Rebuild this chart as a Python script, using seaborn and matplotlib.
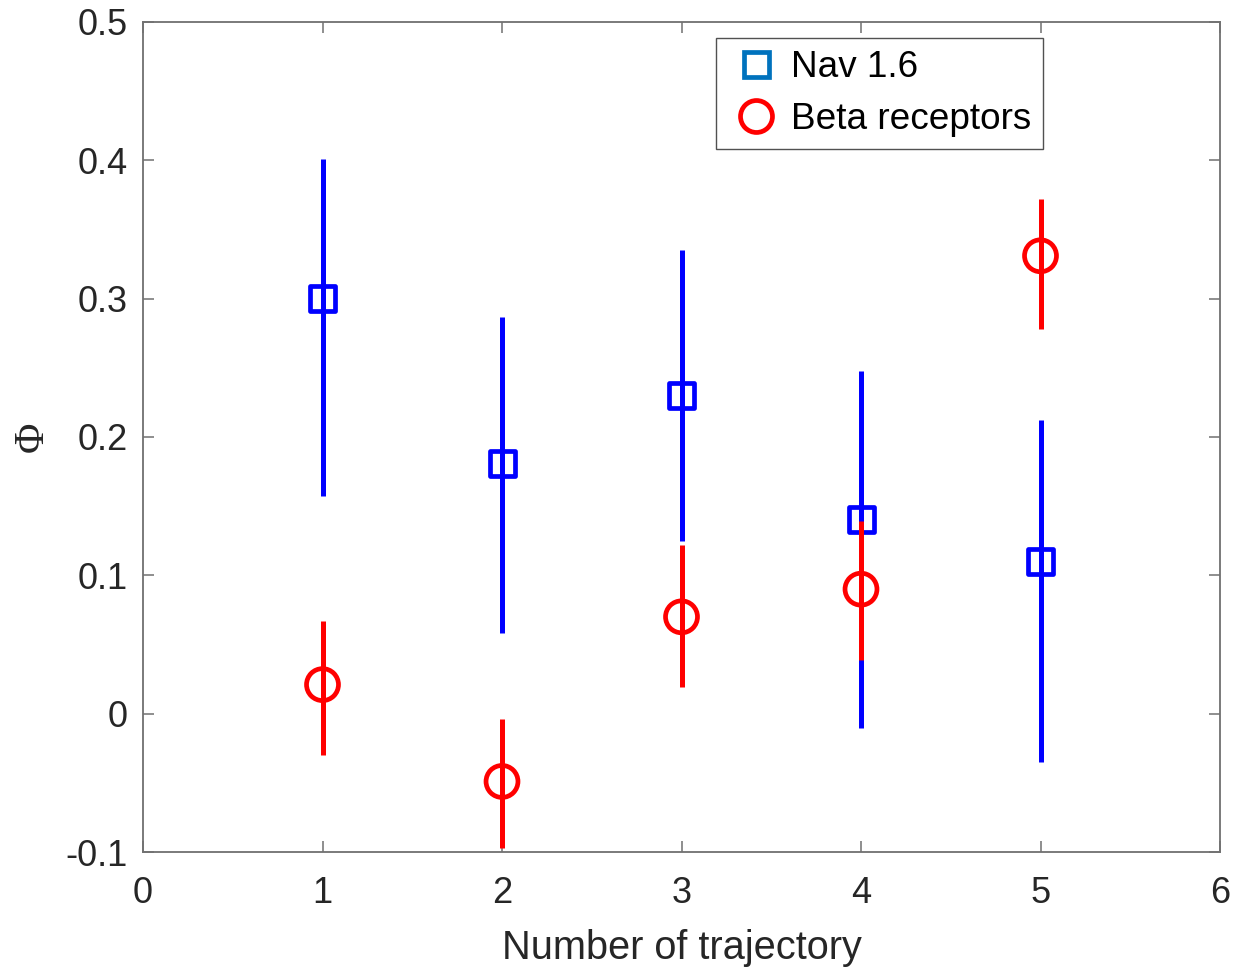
import matplotlib
matplotlib.use("Agg")
import matplotlib.pyplot as plt
import seaborn as sns
import numpy as np
import pandas as pd
from matplotlib.lines import Line2D

# ---- data ----
trajectory = [1, 2, 3, 4, 5]
nav_phi = [0.300, 0.181, 0.230, 0.140, 0.110]
nav_low = [0.157, 0.058, 0.125, -0.010, -0.035]
nav_high = [0.401, 0.287, 0.335, 0.248, 0.212]
beta_phi = [0.021, -0.049, 0.070, 0.090, 0.331]
beta_low = [-0.030, -0.097, 0.019, 0.039, 0.278]
beta_high = [0.067, -0.004, 0.122, 0.139, 0.372]
series_labels = ["Nav 1.6", "Beta receptors"]
x_ticks = [0, 1, 2, 3, 4, 5, 6]
y_ticks = [-0.1, 0, 0.1, 0.2, 0.3, 0.4, 0.5]
y_ticklabels = ["-0.1", "0", "0.1", "0.2", "0.3", "0.4", "0.5"]

sns.set_theme(style="white")
plt.rcParams["font.family"] = ["Liberation Sans", "DejaVu Sans"]

fig = plt.figure(figsize=(12.48, 9.73), dpi=100)
ax = fig.add_axes([143 / 1248, 1 - 852 / 973, (1220 - 143) / 1248, (852 - 22) / 973])

nav_df = pd.DataFrame({"x": trajectory, "y": nav_phi, "lo": nav_low, "hi": nav_high})
beta_df = pd.DataFrame({"x": trajectory, "y": beta_phi, "lo": beta_low, "hi": beta_high})

lw_err = 3.6
ax.vlines(nav_df["x"], nav_df["lo"], nav_df["hi"], color="#0000ff", lw=lw_err, zorder=2)
sns.scatterplot(data=nav_df, x="x", y="y", marker="s", s=18 ** 2, color="#0000ff",
                facecolor="none", edgecolor="#0000ff", linewidth=3.4, ax=ax,
                legend=False, zorder=3)
ax.vlines(beta_df["x"], beta_df["lo"], beta_df["hi"], color="#ff0000", lw=lw_err, zorder=4)
sns.scatterplot(data=beta_df, x="x", y="y", marker="o", s=23 ** 2, color="#ff0000",
                facecolor="none", edgecolor="#ff0000", linewidth=3.4, ax=ax,
                legend=False, zorder=5)

ax.set_xlim(0, 6)
ax.set_ylim(-0.1, 0.5)
ax.set_xticks(x_ticks)
ax.set_xticklabels([str(t) for t in x_ticks])
ax.set_yticks(y_ticks)
ax.set_yticklabels(y_ticklabels)

spine_color = "#707070"
for sp in ax.spines.values():
    sp.set_visible(True)
    sp.set_color(spine_color)
    sp.set_linewidth(1.3)

ax.tick_params(axis="both", which="major", direction="in", length=8, width=1.1,
               color=spine_color, labelsize=26, labelcolor="#262626",
               top=True, right=True, bottom=True, left=True)
ax.tick_params(axis="y", pad=11)
ax.tick_params(axis="x", pad=17)

ax.set_xlabel("Number of trajectory", fontsize=28.6, color="#262626", labelpad=13)
ax.set_ylabel("Φ", fontsize=30, color="#262626", family=["Liberation Serif", "DejaVu Serif"],
              labelpad=10)

handles = [
    Line2D([], [], linestyle="none", marker="s", markersize=18, markerfacecolor="none",
           markeredgecolor="#0072BD", markeredgewidth=3.4),
    Line2D([], [], linestyle="none", marker="o", markersize=23, markerfacecolor="none",
           markeredgecolor="#ff0000", markeredgewidth=3.4),
]
leg = ax.legend(handles, series_labels, loc="upper right",
                bbox_to_anchor=((1043 - 143) / 1077, (852 - 38) / 830),
                borderaxespad=0, fontsize=26.6, frameon=True, fancybox=False,
                handlelength=1.55, handletextpad=0.15, borderpad=0.33, labelspacing=0.45)
leg.get_frame().set_edgecolor("#262626")
leg.get_frame().set_linewidth(1.0)
for t in leg.get_texts():
    t.set_color("#000000")

fig.savefig("out.png", dpi=100, facecolor="white")
